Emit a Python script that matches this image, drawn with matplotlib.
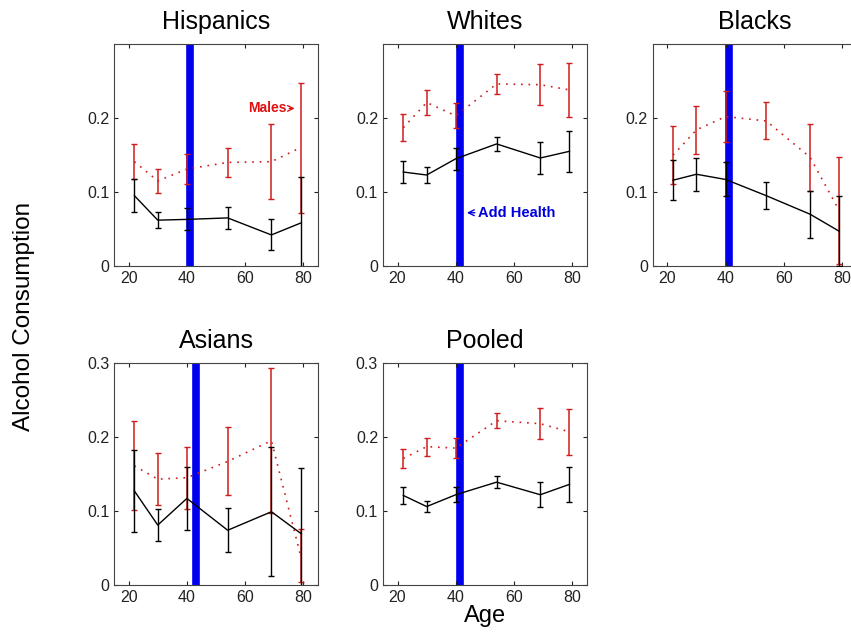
import numpy as np
import matplotlib
matplotlib.use('Agg')
import matplotlib.pyplot as plt

plt.rcParams['font.family'] = ['Liberation Sans', 'DejaVu Sans']

ages = [22, 30, 40, 54, 69, 79]
titles = ['Hispanics', 'Whites', 'Blacks', 'Asians', 'Pooled']
cutoff = [41.0, 41.4, 41.2, 43.2, 41.4]

# means and half-widths of the error bars, women (black) and men (red)
f_mean = {
    'Hispanics': [0.095, 0.062, 0.063, 0.065, 0.042, 0.058],
    'Whites':    [0.127, 0.123, 0.145, 0.165, 0.146, 0.155],
    'Blacks':    [0.116, 0.124, 0.117, 0.095, 0.070, 0.047],
    'Asians':    [0.127, 0.081, 0.117, 0.074, 0.099, 0.070],
    'Pooled':    [0.121, 0.106, 0.122, 0.139, 0.122, 0.136],
}
f_err = {
    'Hispanics': [0.022, 0.011, 0.015, 0.015, 0.021, 0.062],
    'Whites':    [0.015, 0.011, 0.015, 0.010, 0.022, 0.028],
    'Blacks':    [0.027, 0.022, 0.023, 0.018, 0.032, 0.047],
    'Asians':    [0.056, 0.022, 0.042, 0.030, 0.087, 0.088],
    'Pooled':    [0.011, 0.007, 0.010, 0.008, 0.017, 0.024],
}
m_mean = {
    'Hispanics': [0.141, 0.115, 0.131, 0.140, 0.141, 0.160],
    'Whites':    [0.187, 0.221, 0.203, 0.246, 0.245, 0.238],
    'Blacks':    [0.150, 0.184, 0.202, 0.196, 0.147, 0.075],
    'Asians':    [0.161, 0.143, 0.145, 0.167, 0.195, 0.040],
    'Pooled':    [0.171, 0.187, 0.185, 0.222, 0.218, 0.207],
}
m_err = {
    'Hispanics': [0.024, 0.016, 0.020, 0.020, 0.051, 0.088],
    'Whites':    [0.018, 0.017, 0.017, 0.013, 0.028, 0.037],
    'Blacks':    [0.039, 0.032, 0.035, 0.025, 0.045, 0.072],
    'Asians':    [0.060, 0.035, 0.042, 0.046, 0.098, 0.036],
    'Pooled':    [0.013, 0.012, 0.013, 0.010, 0.021, 0.031],
}

red = '#d01c1c'
fig = plt.figure(figsize=(8.51, 6.39), dpi=100)

lefts = [0.134, 0.450, 0.767, 0.134, 0.450]
bottoms = [0.5837, 0.5837, 0.5837, 0.0845, 0.0845]
w, h = 0.2397, 0.3474

axes = []
for i, name in enumerate(titles):
    ax = fig.add_axes([lefts[i], bottoms[i], w, h])
    axes.append(ax)
    ax.axvline(cutoff[i], color='#0000ee', lw=5.5, zorder=1)
    ax.errorbar(ages, m_mean[name], yerr=m_err[name], color=red,
                ls=(0, (1, 3.5)), lw=1.2, capsize=2.5,
                elinewidth=1.1, zorder=2)
    ax.errorbar(ages, f_mean[name], yerr=f_err[name], color='black', ls='-',
                lw=1.0, capsize=2.5, elinewidth=1.0, zorder=3)
    ax.set_xlim(15, 85)
    ax.set_xticks([20, 40, 60, 80])
    ax.set_ylim(0, 0.3)
    if i < 3:
        ax.set_yticks([0, 0.1, 0.2])
        ax.set_yticklabels(['0', '0.1', '0.2'])
    else:
        ax.set_yticks([0, 0.1, 0.2, 0.3])
        ax.set_yticklabels(['0', '0.1', '0.2', '0.3'])
    ax.tick_params(direction='in', top=True, right=True, length=3,
                   labelsize=11.5, colors='#222222')
    ax.set_title(name, fontsize=18, pad=11)
    for s in ax.spines.values():
        s.set_color('#444444')

axes[0].annotate('Males', xy=(77, 0.213), xytext=(61, 0.213),
                 color='#e01010', fontsize=10, fontweight='bold', va='center',
                 arrowprops=dict(arrowstyle='->', color='#e01010', lw=1,
                                 shrinkA=0, shrinkB=0))
axes[1].annotate('Add Health', xy=(43.8, 0.072), xytext=(47.5, 0.072),
                 color='#0000dd', fontsize=10.5, fontweight='bold', va='center',
                 arrowprops=dict(arrowstyle='->', color='#0000dd', lw=1,
                                 shrinkA=0, shrinkB=0))

axes[4].set_xlabel('Age', fontsize=17, labelpad=0)
fig.text(0.028, 0.505, 'Alcohol Consumption', rotation=90, fontsize=17.5,
         va='center', ha='center')

fig.savefig('out.png', dpi=100)
